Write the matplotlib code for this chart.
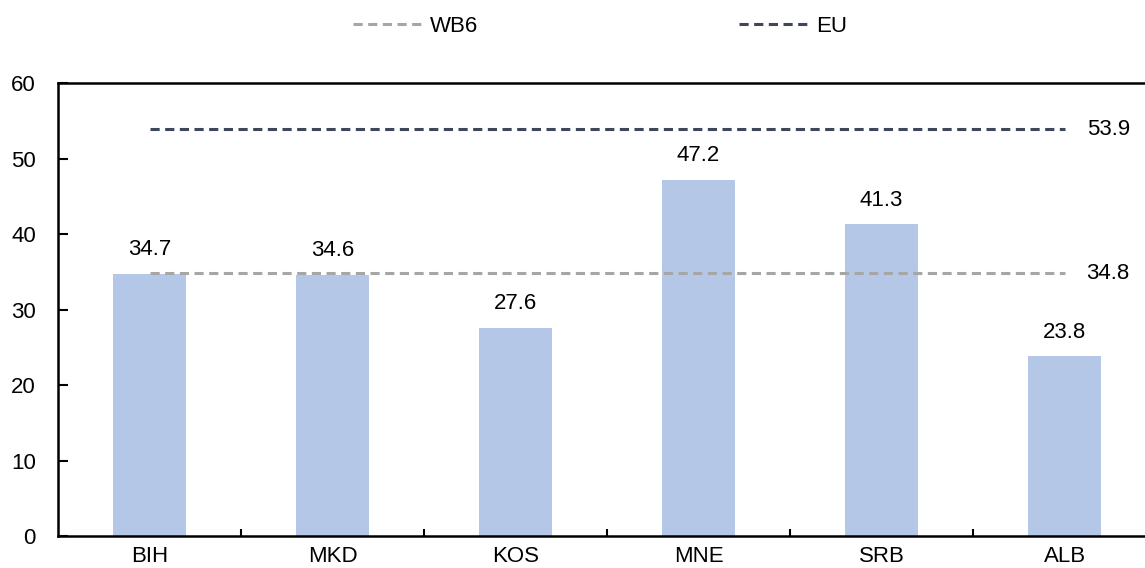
import numpy as np
import matplotlib
matplotlib.use("Agg")
import matplotlib.pyplot as plt
from matplotlib.lines import Line2D

plt.rcParams['font.family'] = ['Liberation Sans', 'DejaVu Sans']

# valeurs par pays
countries = ["BIH", "MKD", "KOS", "MNE", "SRB", "ALB"]
values = [34.7, 34.6, 27.6, 47.2, 41.3, 23.8]
# moyennes de référence
wb6_avg = 34.8
eu_avg = 53.9

bar_color = "#b4c7e7"
wb6_color = "#a6a6a6"
eu_color = "#3d4759"
fs = 16

fig = plt.figure(figsize=(11.45, 5.68), dpi=100)
ax = fig.add_axes([0.0507, 0.0563, 0.959, 0.7975])

x = np.arange(len(countries))
ax.bar(x, values, width=0.4, color=bar_color, zorder=1)
for xi, v in zip(x, values):
    ax.text(xi, v + 1.8, f"{v:.1f}", ha="center", va="bottom", fontsize=fs)

# lignes de moyenne
dash = (0, (3.0, 1.8))
ax.plot([x[0], x[-1]], [wb6_avg, wb6_avg], color=wb6_color, lw=2.2, ls=dash, zorder=2)
ax.plot([x[0], x[-1]], [eu_avg, eu_avg], color=eu_color, lw=2.2, ls=dash, zorder=2)
ax.text(x[-1] + 0.12, wb6_avg, f"{wb6_avg:.1f}", ha="left", va="center", fontsize=fs)
ax.text(x[-1] + 0.12, eu_avg, f"{eu_avg:.1f}", ha="left", va="center", fontsize=fs)

ax.set_xlim(-0.5, len(countries) - 0.5)
ax.set_ylim(0, 60)
ax.set_yticks(np.arange(0, 61, 10))
ax.set_xticks(x)
ax.set_xticklabels(countries)
ax.set_xticks(x[:-1] + 0.5, minor=True)

ax.tick_params(axis="y", direction="in", length=7, width=1.5, pad=16, labelsize=fs)
ax.tick_params(axis="x", which="major", length=0, pad=7, labelsize=fs)
ax.tick_params(axis="x", which="minor", direction="in", length=5, width=1.5)

for side in ["left", "top", "bottom"]:
    ax.spines[side].set_linewidth(1.8)
ax.spines["right"].set_visible(False)

handles = [Line2D([], [], color=wb6_color, lw=2.2, ls=dash),
           Line2D([], [], color=eu_color, lw=2.2, ls=dash)]
fig.legend(handles, ["WB6", "EU"], loc="center", bbox_to_anchor=(0.524, 0.953),
           ncol=2, frameon=False, fontsize=fs, handlelength=3.1,
           handletextpad=0.4, columnspacing=11.7)

fig.savefig("out.png", dpi=100)
